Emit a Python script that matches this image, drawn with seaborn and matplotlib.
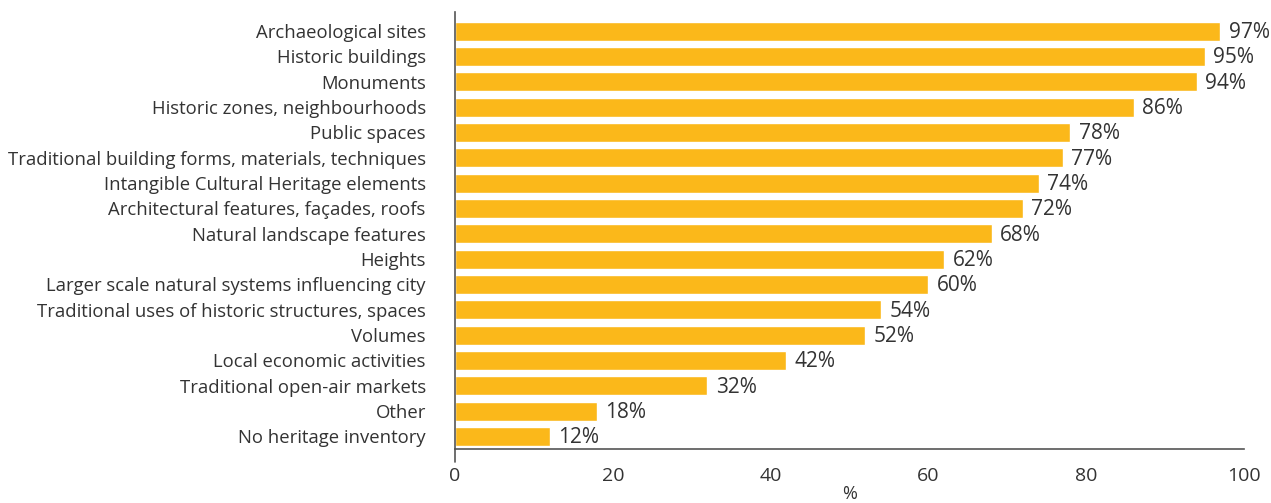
import matplotlib
matplotlib.use("Agg")
import matplotlib.pyplot as plt
import seaborn as sns
import pandas as pd

categories = [
    "Archaeological sites",
    "Historic buildings",
    "Monuments",
    "Historic zones, neighbourhoods",
    "Public spaces",
    "Traditional building forms, materials, techniques",
    "Intangible Cultural Heritage elements",
    "Architectural features, façades, roofs",
    "Natural landscape features",
    "Heights",
    "Larger scale natural systems influencing city",
    "Traditional uses of historic structures, spaces",
    "Volumes",
    "Local economic activities",
    "Traditional open-air markets",
    "Other",
    "No heritage inventory",
]
values = [97, 95, 94, 86, 78, 77, 74, 72, 68, 62, 60, 54, 52, 42, 32, 18, 12]
x_ticks = [0, 20, 40, 60, 80, 100]

df = pd.DataFrame({"category": categories, "value": values})

sns.set_theme(style="white")
plt.rcParams["font.family"] = ["Open Sans", "DejaVu Sans"]
text_color = "#333333"
bar_color = "#FBB81A"
axis_color = "#555555"

fig = plt.figure(figsize=(12.71, 5.03), dpi=100)
ax = fig.add_axes([455 / 1271, 1 - 449 / 503, 789 / 1271, 437 / 503])

sns.barplot(data=df, x="value", y="category", color=bar_color, saturation=1,
            width=0.75, ax=ax, orient="h")

ax.set_xlim(0, 100)
ax.set_ylim(16.5, -0.75)
ax.set_xticks(x_ticks)
ax.set_xticklabels([str(t) for t in x_ticks])
ax.set_xlabel("%", fontsize=13, color=text_color, labelpad=0)
ax.set_ylabel("")

for s in ["top", "right"]:
    ax.spines[s].set_visible(False)
for s in ["left", "bottom"]:
    ax.spines[s].set_color(axis_color)
    ax.spines[s].set_linewidth(1.2)

ax.tick_params(axis="x", direction="in", length=10, width=1.2, color=axis_color,
               labelsize=14, labelcolor=text_color, pad=13)
ax.tick_params(axis="y", length=0, labelsize=13.3, labelcolor=text_color, pad=21)

# extend the y axis line below the x axis
ax.plot([0, 0], [0, -0.03], transform=ax.get_xaxis_transform(),
        color=axis_color, lw=1.2, clip_on=False)

for i, v in enumerate(values):
    ax.annotate(f"{v}%", xy=(v, i), xytext=(6, -1), textcoords="offset points",
                ha="left", va="center", fontsize=15, color=text_color)

fig.savefig("out.png", dpi=100)
